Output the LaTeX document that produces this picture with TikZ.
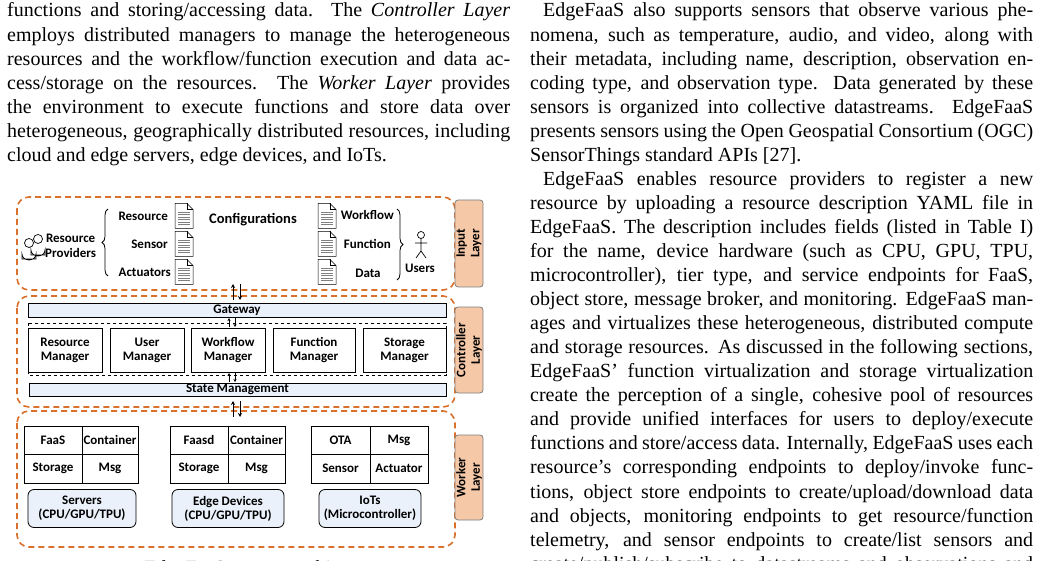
\documentclass[tikz,border=0pt]{standalone}
\usepackage{fontspec}
\setmainfont{Liberation Serif}
\newfontfamily\dgm{Carlito}
\usetikzlibrary{arrows.meta,decorations.pathreplacing}
\definecolor{org}{HTML}{D9712C}
\definecolor{peach}{HTML}{F5C8A8}
\definecolor{lb}{HTML}{EAF1FA}
\newcommand\Jl[3]{\node[anchor=base west,inner sep=0] at (#1,{17+24.05*(#2-1)}) {\makebox[503pt][s]{#3}};}
\newcommand\Jli[3]{\node[anchor=base west,inner sep=0] at (#1+13,{17+24.05*(#2-1)}) {\makebox[490pt][s]{#3}};}
\newcommand\Ll[3]{\node[anchor=base west,inner sep=0] at (#1,{17+24.05*(#2-1)}) {#3};}
\begin{document}
\begin{tikzpicture}[x=1pt,y=-1pt,
  layer/.style={draw=org,line width=1.6pt,dash pattern=on 6pt off 4pt,rounded corners=12pt},
  lab/.style={draw=gray,fill=peach,rounded corners=3pt,line width=0.8pt,minimum width=28pt,inner sep=0},
  bx/.style={draw,line width=0.8pt,inner sep=0,font=\dgm\bfseries\fontsize{13}{14}\selectfont,align=center},
  t/.style={font=\dgm\bfseries\fontsize{13}{14.5}\selectfont,inner sep=0,align=center},
  ar/.style={-{Stealth[length=3pt,width=3pt]},line width=0.6pt},
  doc/.pic={\draw[line width=0.5pt,fill=white] (-9,-12.5)--(3,-12.5)--(9,-6.5)--(9,12.5)--(-9,12.5)--cycle;
    \draw[line width=0.5pt] (3,-12.5)--(3,-6.5)--(9,-6.5);
    \foreach \yy in {-4,-1.5,...,10}{\draw[gray,line width=0.6pt] (-6,\yy)--(6,\yy);}}]
\useasboundingbox (0,0) rectangle (1041,561);
\clip (0,0) rectangle (1041,561);
\fontsize{20}{24.3}\selectfont
% left column text
\Jl{7}{1}{functions and storing/accessing data. The \textit{Controller Layer}}
\Jl{7}{2}{employs distributed managers to manage the heterogeneous}
\Jl{7}{3}{resources and the workflow/function execution and data ac-}
\Jl{7}{4}{cess/storage on the resources. The \textit{Worker Layer} provides}
\Jl{7}{5}{the environment to execute functions and store data over}
\Jl{7}{6}{heterogeneous, geographically distributed resources, including}
\Ll{7}{7}{cloud and edge servers, edge devices, and IoTs.}
% right column
\Jli{530}{1}{EdgeFaaS also supports sensors that observe various phe-}
\Jl{530}{2}{nomena, such as temperature, audio, and video, along with}
\Jl{530}{3}{their metadata, including name, description, observation en-}
\Jl{530}{4}{coding type, and observation type. Data generated by these}
\Jl{530}{5}{sensors is organized into collective datastreams. EdgeFaaS}
\Jl{530}{6}{presents sensors using the Open Geospatial Consortium (OGC)}
\Ll{530}{7}{SensorThings standard APIs [27].}
\Jli{530}{8}{EdgeFaaS enables resource providers to register a new}
\Jl{530}{9}{resource by uploading a resource description YAML file in}
\Jl{530}{10}{EdgeFaaS. The description includes fields (listed in Table I)}
\Jl{530}{11}{for the name, device hardware (such as CPU, GPU, TPU,}
\Jl{530}{12}{microcontroller), tier type, and service endpoints for FaaS,}
\Jl{530}{13}{object store, message broker, and monitoring. EdgeFaaS man-}
\Jl{530}{14}{ages and virtualizes these heterogeneous, distributed compute}
\Jl{530}{15}{and storage resources. As discussed in the following sections,}
\Jl{530}{16}{EdgeFaaS' function virtualization and storage virtualization}
\Jl{530}{17}{create the perception of a single, cohesive pool of resources}
\Jl{530}{18}{and provide unified interfaces for users to deploy/execute}
\Jl{530}{19}{functions and store/access data. Internally, EdgeFaaS uses each}
\Jl{530}{20}{resource's corresponding endpoints to deploy/invoke func-}
\Jl{530}{21}{tions, object store endpoints to create/upload/download data}
\Jl{530}{22}{and objects, monitoring endpoints to get resource/function}
\Jl{530}{23}{telemetry, and sensor endpoints to create/list sensors and}
\Jl{530}{24}{create/publish/subscribe to datastreams and observations and}
\node[anchor=base,inner sep=0] (cap) at (265,574) {EdgeFaaS system architecture};
% layers
\draw[layer] (17,197) rectangle (455,290);
\draw[layer] (17,296) rectangle (455,407);
\draw[layer] (17,411) rectangle (455,547);
\node[lab,minimum height=87pt] (il) at (469,243.5) {};
\node[lab,minimum height=86pt] (cl) at (469,350) {};
\node[lab,minimum height=85pt] (wl) at (469,477.5) {};
\node[t,rotate=90] at (il) {Input\\Layer};
\node[t,rotate=90] at (cl) {Controller\\Layer};
\node[t,rotate=90] at (wl) {Worker\\Layer};
% input content
\begin{scope}[line width=0.7pt]
\draw[fill=white] (29,243) circle (4.5);
\draw[fill=white] (22,259) -- (22,254) arc (180:0:7 and 6) -- (36,259) -- cycle;
\draw[fill=white] (38,239) circle (4.5);
\draw[fill=white] (31,255) -- (31,250) arc (180:0:7 and 6) -- (45,255) -- cycle;
\end{scope}
\node[t,anchor=west] (rp) at (45,246) {Resource\\Providers};
\draw[line width=0.8pt,decorate,decoration={brace,amplitude=6pt}] (108,276) -- (108,209);
\node[t,anchor=east] (rs) at (168,216) {Resource};
\node[t,anchor=east] (se) at (168,244) {Sensor};
\node[t,anchor=east] (ac) at (171,272) {Actuators};
\pic at (184,216) {doc};
\pic at (184,244) {doc};
\pic at (184,272) {doc};
\node[t,font=\dgm\bfseries\fontsize{14.5}{16}\selectfont] (conf) at (253,220) {Configurations};
\pic at (327,216) {doc};
\pic at (327,244) {doc};
\pic at (327,272) {doc};
\node[t,anchor=east] (wf) at (394,215) {Workflow};
\node[t,anchor=east] (fn) at (391,244) {Function};
\node[t] (da) at (368,273) {Data};
\draw[line width=0.8pt,decorate,decoration={brace,amplitude=6pt}] (397,209) -- (397,280);
\begin{scope}[line width=0.7pt]
\draw (421,235) circle (3.5);
\draw (421,238.5) -- (421,251) (415,243) -- (427,243) (421,251) -- (416,258) (421,251) -- (426,258);
\end{scope}
\node[t] (us) at (420,268) {Users};
% controller
\node[bx,fill=lb,minimum width=418pt,minimum height=14pt] (gw) at (237,310) {Gateway};
\draw[dashed,line width=0.7pt] (28,323) rectangle (446,375);
\node[bx,minimum width=74pt,minimum height=44pt] (rm) at (65,350) {Resource\\Manager};
\node[bx,minimum width=74pt,minimum height=44pt] (um) at (147,350) {User\\Manager};
\node[bx,minimum width=74pt,minimum height=44pt] (wm) at (228,350) {Workflow\\Manager};
\node[bx,minimum width=82pt,minimum height=44pt] (fm) at (314,350) {Function\\Manager};
\node[bx,minimum width=83pt,minimum height=44pt] (sm) at (404.5,350) {Storage\\Manager};
\node[bx,fill=lb,minimum width=417pt,minimum height=13pt] (st) at (237.5,389.5) {State Management};
\draw[ar] (229,327) -- (229,318);
\draw[ar] (235,318) -- (235,327);
\draw[ar] (229,382) -- (229,373);
\draw[ar] (235,373) -- (235,382);
\draw[ar,line width=0.8pt,-{Stealth[length=4pt,width=4pt]}] (233,300) -- (233,284);
\draw[ar,line width=0.8pt,-{Stealth[length=4pt,width=4pt]}] (240,284) -- (240,300);
\draw[ar,line width=0.8pt,-{Stealth[length=4pt,width=4pt]}] (233,417) -- (233,401);
\draw[ar,line width=0.8pt,-{Stealth[length=4pt,width=4pt]}] (240,401) -- (240,417);
% worker grids
\foreach \nm/\xa/\xb/\xc/\a/\b/\c/\d in {s/24/82/138/FaaS/Container/Storage/Msg, e/170/228/285/Faasd/Container/Storage/Msg, i/311/370/428/OTA/Msg/Sensor/Actuator}{
  \node[bx,minimum width={\xb-\xa},minimum height=28pt] (\nm a) at ({(\xa+\xb)/2},440) {\a};
  \node[bx,minimum width={\xc-\xb},minimum height=28pt] (\nm b) at ({(\xb+\xc)/2},440) {\b};
  \node[bx,minimum width={\xb-\xa},minimum height=29pt] (\nm c) at ({(\xa+\xb)/2},468.5) {\c};
  \node[bx,minimum width={\xc-\xb},minimum height=29pt] (\nm d) at ({(\xb+\xc)/2},468.5) {\d};
}
\node[bx,fill=lb,rounded corners=6pt,minimum width=108pt,minimum height=38pt] (sv) at (82,508.5) {Servers\\(CPU/GPU/TPU)};
\node[bx,fill=lb,rounded corners=6pt,minimum width=112pt,minimum height=38pt] (ed) at (228,508.5) {Edge Devices\\(CPU/GPU/TPU)};
\node[bx,fill=lb,rounded corners=6pt,minimum width=102pt,minimum height=38pt] (io) at (370,508.5) {IoTs\\(Microcontroller)};
\end{tikzpicture}
\end{document}
